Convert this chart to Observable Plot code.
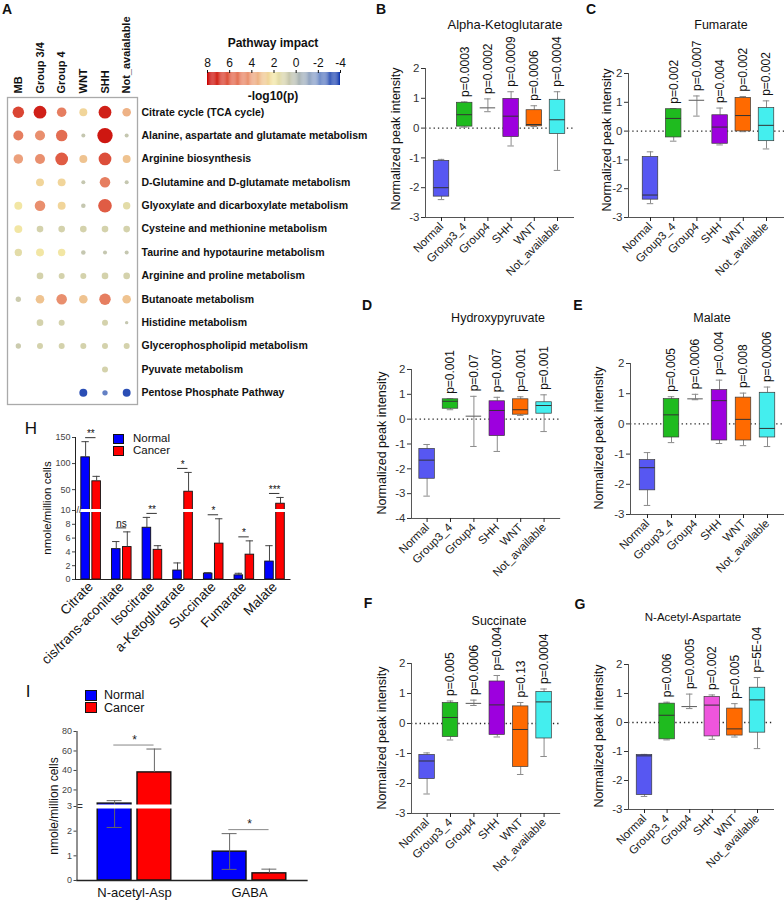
<!DOCTYPE html>
<html><head><meta charset="utf-8">
<script src="https://cdn.jsdelivr.net/npm/d3@7"></script>
<script src="https://cdn.jsdelivr.net/npm/@observablehq/plot@0.6"></script>
<style>
body{margin:0;background:#fff;font-family:"Liberation Sans",Arial,sans-serif;}
#root{position:relative;width:784px;height:900px;overflow:hidden;background:#fff;}
svg{overflow:visible}
</style></head><body><div id="root"></div>
<script>
// ---------- Panel A data ----------
const pathways = ["Citrate cycle (TCA cycle)","Alanine, aspartate and glutamate metabolism","Arginine biosynthesis","D-Glutamine and D-glutamate metabolism","Glyoxylate and dicarboxylate metabolism","Cysteine and methionine metabolism","Taurine and hypotaurine metabolism","Arginine and proline metabolism","Butanoate metabolism","Histidine metabolism","Glycerophospholipid metabolism","Pyuvate metabolism","Pentose Phosphate Pathway"];
const subtypes = ["MB","Group 3/4","Group 4","WNT","SHH","Not_avaialable"];
const logP = [
 [6.5,7.3,5,2.5,7.3,3.5],
 [5,4.5,5.5,0.5,7.5,0.5],
 [4,4.5,6,3,6.3,3],
 [null,2.5,2.5,0.5,5,0.5],
 [2,4.5,2.5,0.5,6,1.5],
 [2,1,1,1,1,1],
 [1.5,2,2,0.5,0.5,0.5],
 [null,1,1,1,1,1],
 [0.7,3,4.5,3,5,3],
 [null,1,1,null,1,0.5],
 [0.7,1,1,1,1,1],
 [null,null,null,null,1,null],
 [null,null,null,-3.5,-2.5,-3.5]
];
const impact = [
 [0.65,0.75,0.5,0.38,0.75,0.43],
 [0.54,0.54,0.65,0.08,0.95,0.08],
 [0.5,0.54,0.75,0.38,0.75,0.38],
 [null,0.38,0.38,0.08,0.58,0.08],
 [0.38,0.58,0.38,0.12,0.82,0.34],
 [0.38,0.28,0.28,0.28,0.28,0.28],
 [0.34,0.38,0.34,0.12,0.08,0.08],
 [null,0.28,0.23,0.23,0.28,0.28],
 [0.18,0.43,0.58,0.43,0.65,0.43],
 [null,0.28,0.23,null,0.23,0.03],
 [0.18,0.23,0.23,0.23,0.23,0.23],
 [null,null,null,null,0.23,null],
 [null,null,null,0.38,0.18,0.38]
];
const legendTicks = [8,6,4,2,0,-2,-4];

// ---------- Panels B-G data: [min, q1, median, q3, max] ----------
const groups = ["Normal","Group3_4","Group4","SHH","WNT","Not_available"];
const akgStats = [[-2.4,-2.3,-2.0,-1.1,-1.05],[0.03,0.05,0.45,0.85,0.88],[0.55,0.68,0.68,0.68,0.98],[-0.6,-0.3,0.4,0.98,1.22],[0.05,0.06,0.12,0.6,0.75],[-1.42,-0.2,0.28,0.95,1.22]];
const akgP = ["0.0003","0.0002","0.0009","0.0006","0.0004"];
const fumStats = [[-2.52,-2.38,-2.22,-0.9,-0.72],[-0.35,-0.22,0.44,0.76,0.78],[0.52,1.07,1.07,1.07,1.22],[-0.48,-0.44,0.14,0.55,0.8],[-0.02,-0.01,0.54,1.15,1.2],[-0.62,-0.35,0.2,0.8,1.05]];
const fumP = ["0.002","0.0007","0.004","0.002","0.002"];
const hpyStats = [[-3.1,-2.4,-1.65,-1.2,-1.02],[0.38,0.42,0.72,0.8,0.82],[-1.1,0.12,0.12,0.12,0.92],[-1.3,-0.68,0.35,0.72,0.88],[0.15,0.18,0.38,0.8,0.9],[-0.5,0.22,0.55,0.68,0.98]];
const hpyP = ["0.001","0.07","0.007","0.001","0.001"];
const malStats = [[-2.7,-2.2,-1.45,-1.2,-0.95],[-0.62,-0.45,0.3,0.82,0.9],[0.8,0.83,0.83,0.83,0.98],[-0.65,-0.55,0.77,1.12,1.45],[-0.72,-0.55,0.15,0.87,1.02],[-0.75,-0.45,-0.15,1.03,1.22]];
const malP = ["0.005","0.0006","0.004","0.008","0.0006"];
const sucStats = [[-2.35,-1.85,-1.25,-1.05,-0.98],[-0.55,-0.45,0.2,0.68,0.75],[0.6,0.67,0.67,0.67,0.78],[-0.45,-0.38,0.62,1.4,1.6],[-1.7,-1.45,-0.2,0.57,0.7],[-1.1,-0.5,0.72,1.05,1.15]];
const sucP = ["0.005","0.0006","0.004","0.13","0.0004"];
const naaStats = [[-2.55,-2.5,-1.15,-1.12,-1.1],[-0.6,-0.58,0.25,0.65,0.7],[0.48,0.55,0.55,0.55,0.98],[-0.58,-0.48,0.6,0.88,0.95],[-0.5,-0.45,-0.22,0.48,0.65],[-0.9,-0.35,0.78,1.2,1.55]];
const naaP = ["0.006","0.0005","0.002","0.005","5E-04"];
const ticks5 = [-3,-2,-1,0,1,2];
const ticks6 = [-4,-3,-2,-1,0,1,2];

// ---------- Panel H data ----------
const hCats = ["Citrate","cis/trans-aconitate","Isocitrate","a-Ketoglutarate","Succinate","Fumarate","Malate"];
const hNormal = [112,4.4,7.5,1.3,0.85,0.6,2.6];
const hNormalErr = [30,1.1,1.5,1.1,0.15,0.3,2.3];
const hCancer = [66,4.7,4.3,46,5.2,3.6,23];
const hCancerErr = [9.5,2.2,0.6,37,3.6,2.0,12];
const hSig = ["**","ns","**","*","*","*","***"];
const hTicks = [0,2,4,6,8,10,50,100,150];

// ---------- Panel I data ----------
const iCats = ["N-acetyl-Asp","GABA"];
const iNormal = [6,1.17];
const iNormalLow = [2.15,0.45];
const iNormalHigh = [9,1.9];
const iCancer = [38,0.29];
const iCancerHigh = [62,0.46];
const iSig = ["*","*"];
const iTicks = [0,1,2,3,20,40,60,80];

// ---------- helpers ----------
const FONT = '"Liberation Sans", Arial, Helvetica, sans-serif';
const root = document.getElementById("root");
const baseStyle = {fontFamily: FONT, background: "transparent", overflow: "visible", color: "#222"};
function place(el, left, top) {
  el.style.position = "absolute";
  el.style.left = left + "px";
  el.style.top = top + "px";
  el.style.maxWidth = "none";
  root.appendChild(el);
}
function label(text, x, y, o = {}) {
  const d = document.createElement("div");
  d.textContent = text;
  d.style.cssText = `position:absolute;left:${x}px;top:${y}px;white-space:nowrap;font-family:${FONT};font-size:${o.size||12}px;font-weight:${o.bold?"bold":"normal"};color:${o.color||"#111"};line-height:1;transform:translate(${o.start?"0":"-50%"},-50%)${o.rotate?" rotate(-90deg)":""};`;
  root.appendChild(d);
}
function swatch(x, y, w, h, color) {
  const d = document.createElement("div");
  d.style.cssText = `position:absolute;left:${x}px;top:${y}px;width:${w}px;height:${h}px;background:${color};border:1px solid #111;box-sizing:border-box;`;
  root.appendChild(d);
}

// ---------- Panel A ----------
const colorOpts = {type: "linear", domain: [-4,-2,0,2,4,6,8], range: ["#0d35ad","#7f99cc","#b6bdb4","#f2e6a4","#eca07c","#e05c44","#c80000"]};
const cells = [];
pathways.forEach((p, i) => subtypes.forEach((s, j) => {
  if (logP[i][j] != null) cells.push({path: p, sub: s, p: logP[i][j], imp: impact[i][j]});
}));
const plotA = Plot.plot({
  width: 340, height: 410,
  marginLeft: 7, marginRight: 203, marginTop: 100, marginBottom: 6,
  style: baseStyle,
  x: {type: "band", domain: subtypes, padding: 0, round: false, label: null},
  y: {type: "band", domain: pathways, padding: 0, round: false, label: null},
  r: {type: "linear", domain: [0, 1], range: [1.5, 8]},
  color: colorOpts,
  marks: [
    Plot.frame({stroke: "#aaa", strokeWidth: 1.3, insetTop: -3}),
    Plot.dot(cells, {x: "sub", y: "path", r: "imp", fill: "p", stroke: null}),
    Plot.axisX({anchor: "top", tickRotate: -90, tickSize: 0, tickPadding: 7, fontWeight: "bold", fontSize: 11, label: null, color: "#111"}),
    Plot.axisY({anchor: "right", tickSize: 0, tickPadding: 4, fontWeight: "bold", fontSize: 10.5, label: null, color: "#111"})
  ]
});
place(plotA, 0, 0);
label("A", 7, 9, {size: 14, bold: true});

// colorbar legend
const stops = d3.range(-4, 8, 0.1);
const plotLeg = Plot.plot({
  width: 170, height: 80,
  marginLeft: 17, marginRight: 20, marginTop: 42, marginBottom: 25,
  style: baseStyle,
  x: {type: "linear", domain: [8, -4], label: null},
  color: colorOpts,
  marks: [
    Plot.rect(stops, {x1: d => d, x2: d => d + 0.1, fill: d => d + 0.05}),
    Plot.axisX({anchor: "top", ticks: legendTicks, tickFormat: d => String(d), tickSize: 3, tickPadding: 3, fontSize: 12, label: null, color: "#111"})
  ]
});
place(plotLeg, 190, 30);
label("Pathway impact", 273, 43, {bold: true, size: 12});
label("-log10(p)", 273, 96, {bold: true, size: 12});

// ---------- Box panels ----------
const boxColors = ["#5757f2","#1fbb1f","#bbbbbb","#9d00de","#ff6a00","#44eeee"];
function boxPanel(o) {
  const n = groups.length, s = o.step, bw = 15.5;
  const pi = 1 - bw / s;
  const off = o.first - o.axisX;
  const po = off / s - (1 - pi) / 2;
  const W = s * (n - pi + 2 * po);
  const mL = 90, mT = 70, mB = 60, mR = 6;
  const rows = groups.map((g, k) => ({
    g, min: o.stats[k][0], q1: o.stats[k][1], med: o.stats[k][2], q3: o.stats[k][3], max: o.stats[k][4],
    p: k > 0 ? o.p[k - 1] : null, color: (o.colors || boxColors)[k]
  }));
  const boxes = rows.filter(d => d.q3 > d.q1);
  const flat = rows.filter(d => d.q3 <= d.q1);
  const plot = Plot.plot({
    width: mL + W + mR, height: mT + (o.yLo - o.yHi) + mB,
    marginLeft: mL, marginRight: mR, marginTop: mT, marginBottom: mB,
    style: baseStyle,
    x: {type: "band", domain: groups, paddingInner: pi, paddingOuter: po, align: 0.5, round: false, label: null},
    y: {domain: [o.ticks[0], o.ticks[o.ticks.length - 1]], label: null},
    color: {type: "identity"},
    marks: [
      Plot.ruleY([0], {stroke: "#222", strokeDasharray: "1.3,3", strokeWidth: 1.3}),
      Plot.ruleX(rows, {x: "g", y1: "min", y2: "q1", stroke: "#8a8a8a", strokeWidth: 1}),
      Plot.ruleX(rows, {x: "g", y1: "q3", y2: "max", stroke: "#8a8a8a", strokeWidth: 1}),
      Plot.tickY(rows, {x: "g", y: "min", stroke: "#8a8a8a", insetLeft: 4.5, insetRight: 4.5}),
      Plot.tickY(rows, {x: "g", y: "max", stroke: "#8a8a8a", insetLeft: 4.5, insetRight: 4.5}),
      Plot.barY(boxes, {x: "g", y1: "q1", y2: "q3", fill: "color", stroke: "#3a3a3a", strokeWidth: 0.7}),
      Plot.tickY(boxes, {x: "g", y: "med", stroke: "#333", strokeWidth: 1}),
      Plot.tickY(flat, {x: "g", y: "med", stroke: "#666", strokeWidth: 1.1}),
      Plot.text(rows.filter(d => d.p), {x: "g", y: "max", text: d => "p=" + d.p, rotate: -90, textAnchor: "start", dy: -5, fontSize: 12, fill: "#111"}),
      Plot.frame({anchor: "left", stroke: "#555"}),
      Plot.frame({anchor: "bottom", stroke: "#555"}),
      Plot.axisY({ticks: o.ticks, tickFormat: d => String(d), tickSize: 4, tickPadding: 2, fontSize: 11.5, label: null, color: "#333"}),
      Plot.axisX({tickRotate: -45, tickSize: 4, tickPadding: 3, fontSize: 11.5, label: null, color: "#222"})
    ]
  });
  place(plot, o.axisX - mL, o.yHi - mT);
  label(o.title, o.titleX, o.titleY, {size: o.titleSize || 12.5});
  label("Normalized peak intensity", o.labX, o.labY, {size: 12.5, rotate: true});
  label(o.letter, o.letX, o.letY, {size: 14, bold: true});
}
boxPanel({stats: akgStats, p: akgP, ticks: ticks5, axisX: 425, yHi: 68, yLo: 217, first: 441, step: 23.2,
  title: "Alpha-Ketoglutarate", titleX: 505, titleY: 24, titleSize: 13, labX: 396, labY: 139, letter: "B", letX: 381, letY: 9});
boxPanel({stats: fumStats, p: fumP, ticks: ticks5, axisX: 628, yHi: 73, yLo: 217, first: 650, step: 23.2,
  title: "Fumarate", titleX: 721, titleY: 25, labX: 607, labY: 140, letter: "C", letX: 591, letY: 9});
boxPanel({stats: hpyStats, p: hpyP, ticks: ticks6, axisX: 411, yHi: 369, yLo: 518, first: 426.6, step: 23.4,
  title: "Hydroxypyruvate", titleX: 498, titleY: 318, labX: 382, labY: 443, letter: "D", letX: 367, letY: 305});
boxPanel({stats: malStats, p: malP, ticks: ticks5, axisX: 630, yHi: 363, yLo: 514, first: 647, step: 24,
  title: "Malate", titleX: 712, titleY: 318, labX: 599, labY: 438, letter: "E", letX: 578, letY: 305});
boxPanel({stats: sucStats, p: sucP, ticks: ticks5, axisX: 411, yHi: 663, yLo: 813, first: 426.6, step: 23.4,
  title: "Succinate", titleX: 499, titleY: 621, labX: 382, labY: 738, letter: "F", letX: 368, letY: 603});
boxPanel({stats: naaStats, p: naaP, ticks: ticks5, axisX: 628, yHi: 664, yLo: 809, first: 644, step: 22.6,
  colors: ["#5757f2","#1fbb1f","#bbbbbb","#ee55dd","#ff6a00","#44eeee"],
  title: "N-Acetyl-Aspartate", titleX: 693, titleY: 618, titleSize: 11.5, labX: 599, labY: 736, letter: "G", letX: 580, letY: 604});

// ---------- Panel H ----------
const hRows = [];
hCats.forEach((c, i) => {
  hRows.push({i, grp: "Normal", mean: hNormal[i], top: hNormal[i] + hNormalErr[i], x1: i - 0.31, x2: i - 0.03, fill: "#0000ff"});
  hRows.push({i, grp: "Cancer", mean: hCancer[i], top: hCancer[i] + hCancerErr[i], x1: i + 0.05, x2: i + 0.33, fill: "#ff0000"});
});
const hSigRows = hCats.map((c, i) => ({i, label: hSig[i], top: Math.max(hNormal[i] + hNormalErr[i], hCancer[i] + hCancerErr[i])}));
const plotH = Plot.plot({
  width: 340, height: 210,
  marginLeft: 75, marginRight: 50.5, marginTop: 17, marginBottom: 51,
  style: baseStyle,
  x: {type: "linear", domain: [-0.5, hCats.length - 0.5], label: null},
  y: {type: "linear", domain: [0, 10, 150], range: [159, 90, 17], label: null},
  color: {type: "identity"},
  marks: [
    Plot.rect(hRows, {x1: "x1", x2: "x2", y1: 0, y2: "mean", fill: "fill", stroke: "#111", strokeWidth: 0.9}),
    Plot.ruleX(hRows, {x: d => (d.x1 + d.x2) / 2, y1: "mean", y2: "top", stroke: "#444"}),
    Plot.ruleY(hRows, {y: "top", x1: d => (d.x1 + d.x2) / 2 - 0.12, x2: d => (d.x1 + d.x2) / 2 + 0.12, stroke: "#444"}),
    Plot.ruleY([10], {stroke: "white", strokeWidth: 3}),
    Plot.ruleY(hSigRows, {y: "top", x1: d => d.i - 0.17, x2: d => d.i + 0.17, dy: -4, stroke: "#333"}),
    Plot.text(hSigRows, {x: "i", y: "top", text: "label", dy: -8, fontSize: 10, fill: "#111"}),
    Plot.frame({anchor: "left", stroke: "#222"}),
    Plot.frame({anchor: "bottom", stroke: "#222"}),
    Plot.text([10], {y: d => d, frameAnchor: "left", text: () => "//", fontSize: 9, fill: "#333", dx: 1}),
    Plot.axisY({ticks: hTicks, tickFormat: d => String(d), tickSize: 3, tickPadding: 2, fontSize: 9, label: null, color: "#444"}),
    Plot.axisX({ticks: hCats.map((c, i) => i), tickFormat: i => hCats[i], tickRotate: -45, tickSize: 0, tickPadding: 5, fontSize: 13.5, label: null, color: "#111"})
  ]
});
place(plotH, 0, 420);
label("H", 31, 428, {size: 17});
label("nmole/million cells", 48, 508, {size: 11.5, rotate: true});
swatch(113, 434, 11, 10, "#0000ff");
swatch(113, 446, 11, 10, "#ff0000");
label("Normal", 133, 439, {size: 11.5, start: true});
label("Cancer", 133, 451, {size: 11.5, start: true});

// ---------- Panel I ----------
const iRows = [];
iCats.forEach((c, i) => {
  iRows.push({i, mean: iNormal[i], top: iNormalHigh[i], low: iNormalLow[i], x1: i - 0.32, x2: i - 0.026, fill: "#0000ff"});
  iRows.push({i, mean: iCancer[i], top: iCancerHigh[i], low: null, x1: i + 0.026, x2: i + 0.32, fill: "#ff0000"});
});
const iSigRows = iCats.map((c, i) => ({i, label: iSig[i], top: Math.max(iNormalHigh[i], iCancerHigh[i])}));
const plotI = Plot.plot({
  width: 340, height: 180,
  marginLeft: 76.5, marginRight: 33.5, marginTop: 11, marginBottom: 20,
  style: baseStyle,
  x: {type: "linear", domain: [-0.5, iCats.length - 0.5], label: null},
  y: {type: "linear", domain: [0, 3, 80], range: [160, 86, 11], label: null},
  color: {type: "identity"},
  marks: [
    Plot.rect(iRows, {x1: "x1", x2: "x2", y1: 0, y2: "mean", fill: "fill", stroke: "#111", strokeWidth: 1.4}),
    Plot.ruleX(iRows, {x: d => (d.x1 + d.x2) / 2, y1: "mean", y2: "top", stroke: "#666"}),
    Plot.ruleY(iRows, {y: "top", x1: d => (d.x1 + d.x2) / 2 - 0.065, x2: d => (d.x1 + d.x2) / 2 + 0.065, stroke: "#666"}),
    Plot.ruleX(iRows.filter(d => d.low != null), {x: d => (d.x1 + d.x2) / 2, y1: "low", y2: "mean", stroke: "#666"}),
    Plot.ruleY(iRows.filter(d => d.low != null), {y: "low", x1: d => (d.x1 + d.x2) / 2 - 0.065, x2: d => (d.x1 + d.x2) / 2 + 0.065, stroke: "#666"}),
    Plot.ruleY([3], {stroke: "white", strokeWidth: 4}),
    Plot.ruleY(iSigRows, {y: "top", x1: d => d.i - 0.18, x2: d => d.i + 0.17, dy: -4, stroke: "#888"}),
    Plot.text(iSigRows, {x: "i", y: "top", text: "label", dy: -9, fontSize: 12, fill: "#222"}),
    Plot.frame({anchor: "left", stroke: "#222"}),
    Plot.frame({anchor: "bottom", stroke: "#222", strokeWidth: 1.3}),
    Plot.text([3], {y: d => d, frameAnchor: "left", text: () => "=", fontSize: 10, fill: "#333", dx: 0}),
    Plot.axisY({ticks: iTicks, tickFormat: d => String(d), tickSize: 3, tickPadding: 2, fontSize: 9, label: null, color: "#444"}),
    Plot.axisX({ticks: iCats.map((c, i) => i), tickFormat: i => iCats[i], tickSize: 0, tickPadding: 7, fontSize: 13, label: null, color: "#111"})
  ]
});
place(plotI, 0, 720);
label("I", 28, 691, {size: 17});
label("nmole/million cells", 54, 806, {size: 12, rotate: true});
swatch(85, 690, 12, 11, "#0000ff");
swatch(85, 702, 12, 11, "#ff0000");
label("Normal", 104, 695, {size: 12.5, start: true});
label("Cancer", 104, 708, {size: 12.5, start: true});
</script></body></html>
